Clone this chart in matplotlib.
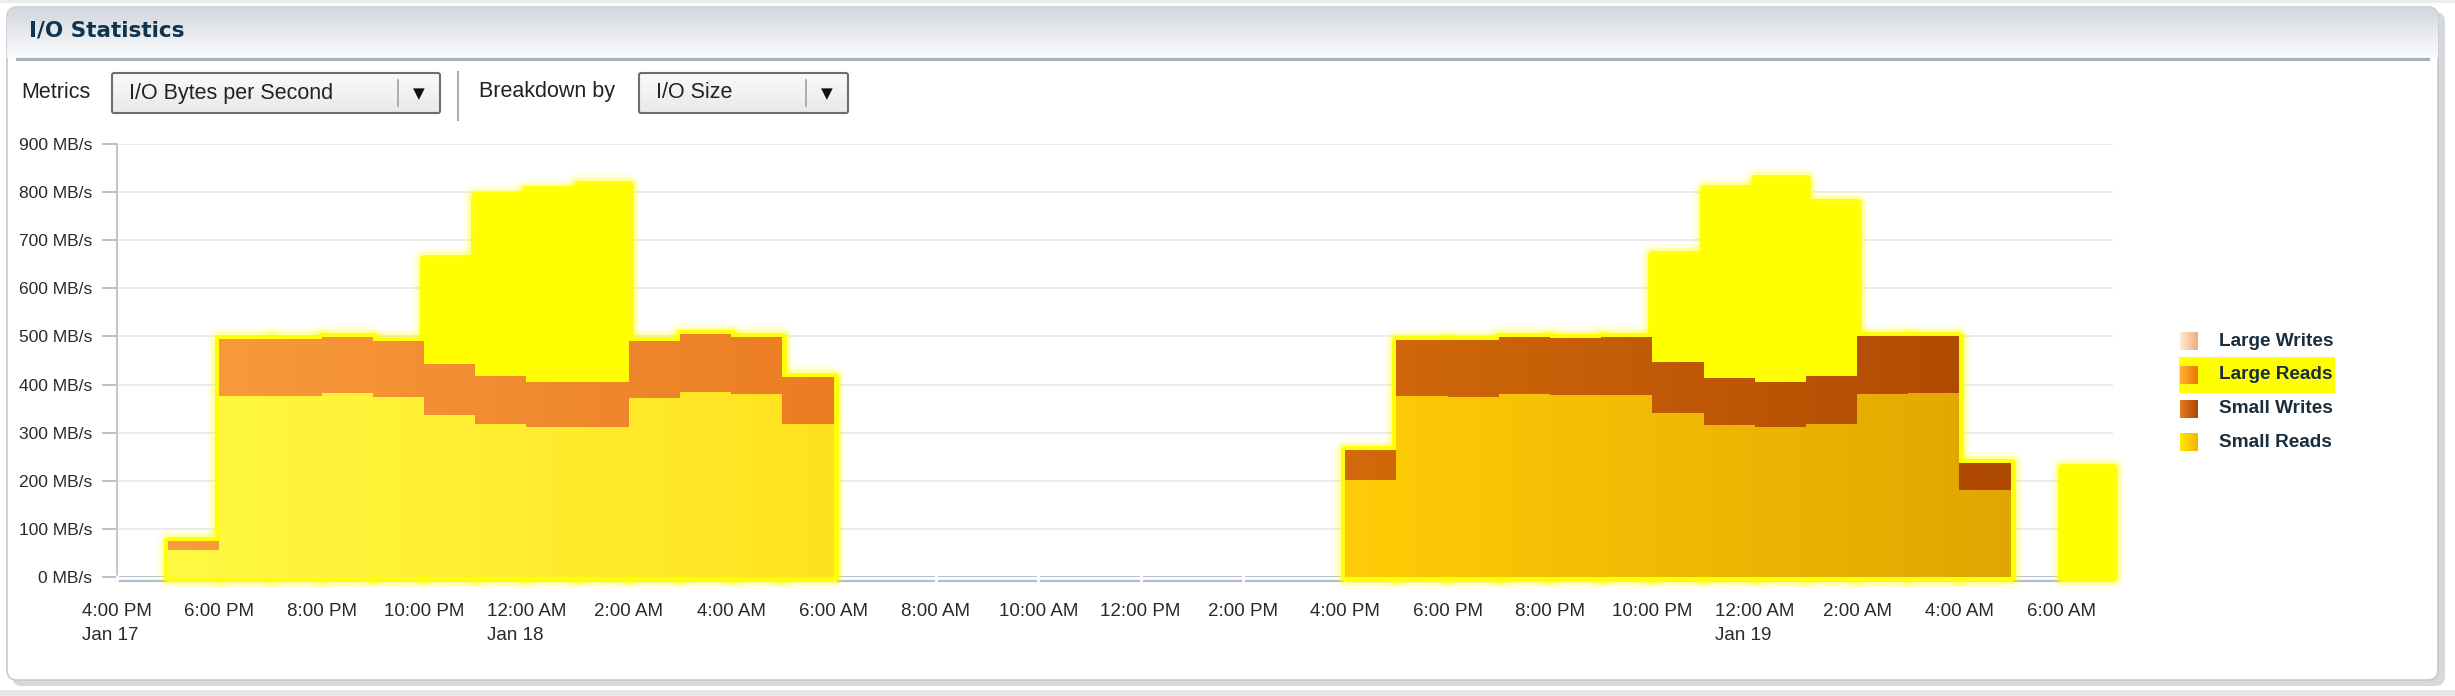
import numpy as np
import matplotlib
matplotlib.use("Agg")
import matplotlib.pyplot as plt
from matplotlib.colors import LinearSegmentedColormap
from matplotlib.patches import FancyBboxPatch, Rectangle

W, H = 2455, 696

# hourly samples in MB/s, hour 0 = 4:00 PM Jan 17, each value holds for one hour
hours = list(range(39))
small_reads = [0, 57, 377, 377, 382, 374, 337, 318, 311, 311, 373, 384, 380, 317,
               0, 0, 0, 0, 0, 0, 0, 0, 0, 0,
               202, 376, 375, 380, 379, 379, 340, 315, 311, 318, 381, 383, 180, 0, 0]
small_writes = [0, 17, 118, 117, 117, 117, 105, 99, 95, 95, 117, 121, 119, 98,
                0, 0, 0, 0, 0, 0, 0, 0, 0, 0,
                62, 117, 117, 119, 118, 119, 106, 98, 95, 99, 120, 118, 56, 0, 0]
large_reads = [0, 0, 0, 0, 0, 0, 218, 375, 398, 409, 0, 0, 0, 0,
               0, 0, 0, 0, 0, 0, 0, 0, 0, 0,
               0, 0, 0, 0, 0, 0, 224, 393, 421, 360, 0, 0, 0, 0, 226]
large_writes = [0, 0, 0, 0, 0, 0, 0, 0, 0, 0, 0, 0, 0, 0,
                0, 0, 0, 0, 0, 0, 0, 0, 0, 0,
                0, 0, 0, 0, 0, 0, 0, 0, 0, 0, 0, 0, 0, 0, 0]

tick_hours = list(range(0, 39, 2))
time_labels = ["4:00 PM", "6:00 PM", "8:00 PM", "10:00 PM", "12:00 AM", "2:00 AM",
               "4:00 AM", "6:00 AM", "8:00 AM", "10:00 AM", "12:00 PM", "2:00 PM",
               "4:00 PM", "6:00 PM", "8:00 PM", "10:00 PM", "12:00 AM", "2:00 AM",
               "4:00 AM", "6:00 AM"]
date_labels = {0: "Jan 17", 8: "Jan 18", 32: "Jan 19"}
legend_names = ["Large Writes", "Large Reads", "Small Writes", "Small Reads"]

FONT = "Liberation Sans"
plt.rcParams["font.family"] = [FONT, "DejaVu Sans"]

# colour ramps along the time axis
sr_cmap = LinearSegmentedColormap.from_list(
    "sr", [(0, "#FFFB45"), (14 / 39, "#FFE21E"), (25 / 39, "#FDCA06"), (1, "#DCA000")])
sw_cmap = LinearSegmentedColormap.from_list(
    "sw", [(0, "#FA9E40"), (14 / 39, "#EB7C22"), (25 / 39, "#D0680A"), (1, "#A84300")])
GLOW = "#FFFF00"

fig = plt.figure(figsize=(W / 100, H / 100), dpi=100)

# ---- background / panel drawn in pixel coordinates ----
bg = fig.add_axes([0, 0, 1, 1], zorder=0)
bg.set_xlim(0, W)
bg.set_ylim(H, 0)
bg.axis("off")

bg.add_patch(Rectangle((0, 0), W, 3, color="#ECECEC", lw=0))
bg.add_patch(Rectangle((0, 690), W, 6, color="#E6E6E6", lw=0))
bg.add_patch(FancyBboxPatch((12, 12), 2433, 674, boxstyle="round,pad=0,rounding_size=10",
                            facecolor="#D6D8DB", edgecolor="none"))
panel = FancyBboxPatch((7, 7), 2431, 673, boxstyle="round,pad=0,rounding_size=10",
                       facecolor="white", edgecolor="#C6CBD1", lw=1.2)
bg.add_patch(panel)

head = np.linspace(0, 1, 60).reshape(-1, 1)
head_cmap = LinearSegmentedColormap.from_list("hd", ["#D2D7DE", "#FBFCFD"])
im = bg.imshow(head, cmap=head_cmap, extent=[7, 2438, 58, 7], aspect="auto", zorder=1)
im.set_clip_path(panel)
bg.plot([17, 2428], [59, 59], color="#A9B1BD", lw=2.2, zorder=2)

bg.text(29, 31, "I/O Statistics", family="DejaVu Sans", weight="bold", fontsize=15.5,
        color="#0F3450", va="center", ha="left", zorder=3)

bg.text(21, 92, "Metrics", fontsize=15.5, color="#222222", va="center")
bg.text(479, 92, "Breakdown by", fontsize=15.5, color="#222222", va="center")
bg.plot([458, 458], [72, 120], color="#A8B0BC", lw=1.5)

box_cmap = LinearSegmentedColormap.from_list("bx", ["#FAFAFA", "#E9E9E9"])
for x0, w, div, label in [(112, 328, 398, "I/O Bytes per Second"), (639, 209, 806, "I/O Size")]:
    box = FancyBboxPatch((x0, 73), w, 40, boxstyle="round,pad=0,rounding_size=2",
                         facecolor="none", edgecolor="#6E6E6E", lw=1.5, zorder=3)
    bg.add_patch(box)
    bim = bg.imshow(np.linspace(0, 1, 40).reshape(-1, 1), cmap=box_cmap,
                    extent=[x0, x0 + w, 113, 73], aspect="auto", zorder=2)
    bim.set_clip_path(box)
    bg.plot([div, div], [80, 106], color="#A8A8A8", lw=1.3, zorder=3)
    bg.text(div + 21, 94, "\u25BC", family="DejaVu Sans", fontsize=11, color="#111111",
            ha="center", va="center", zorder=3)
    bg.text(x0 + 17, 93, label, fontsize=15.5, color="#222222", va="center", zorder=3)

# legend
leg_cmaps = [LinearSegmentedColormap.from_list("lw", ["#FDEBD6", "#F2AE78"]),
             LinearSegmentedColormap.from_list("lr", ["#FFB030", "#EF7600"]),
             LinearSegmentedColormap.from_list("sw2", ["#E57A25", "#AE4700"]),
             LinearSegmentedColormap.from_list("sr2", ["#FFE800", "#F2B600"])]
bg.add_patch(Rectangle((2179, 357), 156, 36, color=GLOW, lw=0, zorder=1))
for i, (name, cm) in enumerate(zip(legend_names, leg_cmaps)):
    yc = 341 + i * 33.8
    bg.imshow(np.linspace(0, 1, 20).reshape(1, -1), cmap=cm,
              extent=[2180, 2198, yc + 9, yc - 9], aspect="auto", zorder=2)
    bg.text(2219, yc, name, weight="bold", fontsize=13.7, color="#1A2E3E",
            va="center", ha="left", zorder=3)
bg.set_xlim(0, W)
bg.set_ylim(H, 0)

# ---- chart ----
ax = fig.add_axes([117 / W, 1 - 577 / H, (2113 - 117) / W, (577 - 144) / H], zorder=1)
ax.patch.set_visible(False)

sr = np.array(small_reads)
sw = np.array(small_writes)
lr = np.array(large_reads)
lwr = np.array(large_writes)
total = sr + sw + lr + lwr
edges = list(range(len(hours) + 1))

# highlight glow around the filled blocks
gx = [h for h, t in zip(hours, total) if t > 0]
gh = [t for t in total if t > 0]
for lw_pt, a in [(16, 0.1), (11, 0.25), (6.5, 0.95)]:
    ax.bar(gx, gh, width=1, align="edge", color=GLOW, edgecolor=GLOW, linewidth=lw_pt,
           alpha=a, joinstyle="round", zorder=3.1, clip_on=False)

# stacked layers, each drawn from zero so the next one covers it without seams
ax.stairs(sr + sw + lr + lwr, edges, baseline=0, fill=True, color="#F6C090", lw=0, zorder=3.2)
ax.stairs(sr + sw + lr, edges, baseline=0, fill=True, color=GLOW, lw=0, zorder=3.3)
grad = np.linspace(0, 1, 500).reshape(1, -1)
for k, (top, cm) in enumerate([(sr + sw, sw_cmap), (sr, sr_cmap)]):
    sp = ax.stairs(top, edges, baseline=0, fill=True, facecolor="none", lw=0)
    gim = ax.imshow(grad, cmap=cm, extent=[0, 39, 0, 900], aspect="auto",
                    origin="lower", zorder=3.4 + k * 0.1, interpolation="bilinear")
    gim.set_clip_path(sp)

ax.set_xlim(0, 39)
ax.set_ylim(0, 900)
ax.set_yticks(range(0, 901, 100))
ax.yaxis.set_major_formatter(lambda v, p: f"{v:.0f} MB/s")
ax.grid(axis="y", color="#E7E7E7", lw=1.2)
ax.set_axisbelow(True)

ax.set_xticks(tick_hours,
              labels=[t + ("\n" + date_labels[h] if h in date_labels else "")
                      for h, t in zip(tick_hours, time_labels)])

for s in ["top", "right"]:
    ax.spines[s].set_visible(False)
ax.spines["left"].set_color("#BCC8D4")
ax.spines["left"].set_linewidth(1.5)
ax.spines["bottom"].set_color("#B2BECA")
ax.spines["bottom"].set_linewidth(1.6)
ax.spines["bottom"].set_position(("outward", 3))
ax.axhline(0, color="#A8B4C0", lw=1.8, zorder=2.5)

ax.tick_params(axis="y", color="#A8B8C8", length=11, width=1.2, pad=7,
               labelsize=12.5, labelcolor="#2A2A2A")
ax.tick_params(axis="x", color="white", length=9, width=2, direction="inout", pad=11,
               labelsize=13.5, labelcolor="#2A2A2A")
ax.xaxis.set_zorder(3)

for t in ax.get_xticklabels():
    t.set_multialignment("left")
    t.set_linespacing(1.55)

fig.savefig("out.png", dpi=100, facecolor="white")
